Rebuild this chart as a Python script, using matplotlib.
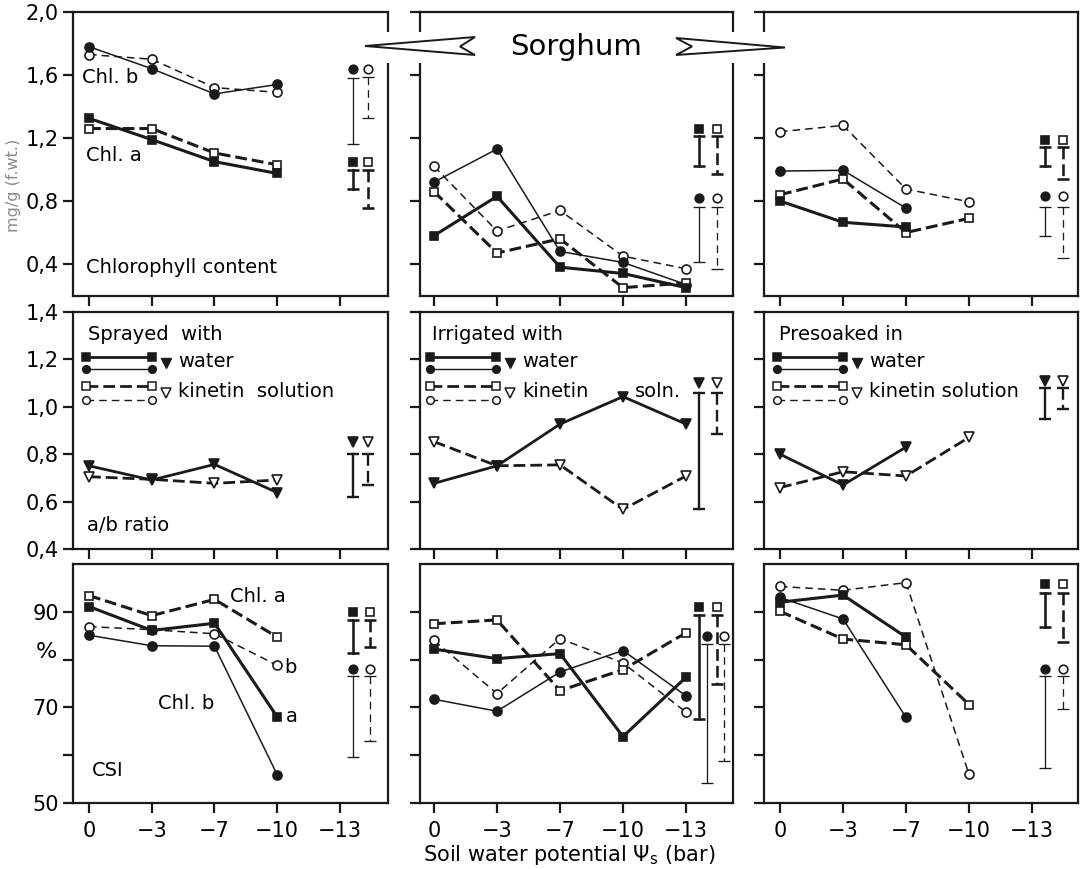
import matplotlib
matplotlib.use('Agg')
import matplotlib.pyplot as plt
from matplotlib.patches import Polygon, Rectangle

plt.rcParams['font.family'] = ['DejaVu Sans']
plt.rcParams['lines.scale_dashes'] = False

W, H = 1086, 869

x_pos = [0, 1, 2, 3, 4]
x_labels = ['0', '−3', '−7', '−10', '−13']

# chlorophyll content, mg/g f.wt.
spray_a_water = [1.325, 1.19, 1.05, 0.975]
spray_a_kin = [1.26, 1.26, 1.105, 1.03]
spray_b_water = [1.78, 1.64, 1.48, 1.54]
spray_b_kin = [1.73, 1.70, 1.52, 1.49]
irr_a_water = [0.58, 0.83, 0.38, 0.34, 0.25]
irr_a_kin = [0.86, 0.47, 0.56, 0.25, 0.28]
irr_b_water = [0.92, 1.13, 0.48, 0.41, 0.27]
irr_b_kin = [1.02, 0.61, 0.74, 0.45, 0.37]
soak_a_water = [0.80, 0.665, 0.635]
soak_a_kin = [0.84, 0.94, 0.60, 0.69]
soak_b_water = [0.99, 0.995, 0.755]
soak_b_kin = [1.24, 1.28, 0.876, 0.795]

# a/b ratio
spray_r_water = [0.751, 0.691, 0.757, 0.638]
spray_r_kin = [0.705, 0.694, 0.677, 0.691]
irr_r_water = [0.677, 0.751, 0.927, 1.043, 0.927]
irr_r_kin = [0.853, 0.751, 0.755, 0.567, 0.708]
soak_r_water = [0.80, 0.67, 0.83]
soak_r_kin = [0.659, 0.726, 0.708, 0.871]

# CSI, %
spray_csi_a_water = [91.1, 86.1, 87.6, 68.0]
spray_csi_a_kin = [93.4, 89.2, 92.6, 84.7]
spray_csi_b_water = [85.1, 82.9, 82.8, 55.9]
spray_csi_b_kin = [86.9, 86.25, 85.4, 78.8]
irr_csi_a_water = [82.2, 80.2, 81.25, 63.9, 76.3]
irr_csi_a_kin = [87.5, 88.3, 73.5, 77.9, 85.6]
irr_csi_b_water = [71.7, 69.2, 77.4, 81.9, 72.4]
irr_csi_b_kin = [84.0, 72.9, 84.4, 79.3, 69.0]
soak_csi_a_water = [92.0, 93.5, 84.7]
soak_csi_a_kin = [90.1, 84.3, 83.1, 70.6]
soak_csi_b_water = [93.0, 88.5, 67.9]
soak_csi_b_kin = [95.3, 94.5, 96.1, 56.0]

# LSD bars: (series, symbol level, bar top, bar bottom)
spray_chl_lsd = [('b_w', 1.64, 1.58, 1.16), ('b_k', 1.64, 1.59, 1.33),
                 ('a_w', 1.05, 1.00, 0.875), ('a_k', 1.05, 1.00, 0.755)]
irr_chl_lsd = [('a_w', 1.26, 1.21, 1.02), ('a_k', 1.26, 1.21, 0.97),
               ('b_w', 0.82, 0.76, 0.41), ('b_k', 0.82, 0.76, 0.37)]
soak_chl_lsd = [('a_w', 1.19, 1.14, 1.02), ('a_k', 1.19, 1.14, 0.94),
                ('b_w', 0.83, 0.76, 0.58), ('b_k', 0.83, 0.76, 0.44)]
spray_ratio_lsd = [('r_w', 0.85, 0.80, 0.62), ('r_k', 0.85, 0.80, 0.67)]
irr_ratio_lsd = [('r_w', 1.10, 1.06, 0.57), ('r_k', 1.10, 1.06, 0.885)]
soak_ratio_lsd = [('r_w', 1.11, 1.08, 0.95), ('r_k', 1.11, 1.08, 0.99)]
spray_csi_lsd = [('a_w', 89.9, 88.3, 81.4), ('a_k', 89.9, 88.3, 82.6),
                 ('b_w', 78.1, 76.5, 59.7), ('b_k', 78.1, 76.5, 63.0)]
irr_csi_lsd = [('a_w', 91.1, 89.4, 67.5), ('a_k', 91.1, 89.4, 74.8),
               ('b_w', 85.0, 83.3, 54.1), ('b_k', 85.0, 83.3, 58.7)]
soak_csi_lsd = [('a_w', 95.8, 93.9, 86.9), ('a_k', 95.8, 93.9, 83.7),
                ('b_w', 78.1, 76.5, 57.4), ('b_k', 78.1, 76.5, 69.6)]

INK = '#1a1a1a'
thick_dash = (0, (8.5, 3.6))
thin_dash = (0, (5.5, 3.6))
styles = {
    'a_w': dict(lw=2.2, ls='-', marker='s', ms=6, mfc=INK),
    'a_k': dict(lw=2.2, ls=thick_dash, marker='s', ms=6, mfc='white'),
    'b_w': dict(lw=1.1, ls='-', marker='o', ms=6.5, mfc=INK),
    'b_k': dict(lw=1.1, ls=thin_dash, marker='o', ms=6.5, mfc='white'),
    'r_w': dict(lw=2.0, ls='-', marker='v', ms=7.5, mfc=INK),
    'r_k': dict(lw=2.0, ls=thick_dash, marker='v', ms=7.5, mfc='white'),
}

cols_px = [(73, 388), (420, 733), (764, 1078)]
rows_px = [(12, 296), (312, 549), (564, 803)]
xlims = [(-0.255, 4.765), (-0.222, 4.746), (-0.254, 4.730)]
# x of the LSD bars per row and column: (solid, dashed, extra shift for circles)
lsd_x = [[(4.2, 4.45, 0.0), (4.21, 4.49, 0.0), (4.21, 4.49, 0.0)],
         [(4.2, 4.45, 0.0), (4.21, 4.49, 0.0), (4.21, 4.49, 0.0)],
         [(4.2, 4.48, 0.0), (4.21, 4.49, 0.12), (4.21, 4.49, 0.0)]]

fig = plt.figure(figsize=(W / 100, H / 100), dpi=100)


def make_ax(r, c):
    x0, x1 = cols_px[c]
    y0, y1 = rows_px[r]
    ax = fig.add_axes([x0 / W, 1 - y1 / H, (x1 - x0) / W, (y1 - y0) / H])
    for s in ax.spines.values():
        s.set_linewidth(1.6)
        s.set_color(INK)
    ax.tick_params(direction='out', length=7, width=1.6, labelsize=15,
                   color=INK, pad=3)
    ax.set_xlim(*xlims[c])
    ax.set_xticks(x_pos)
    if r == 2:
        ax.set_xticklabels(x_labels)
        ax.tick_params(axis='x', pad=6)
    else:
        ax.set_xticklabels([])
    return ax


def draw(ax, vals, key):
    st = styles[key]
    ax.plot(x_pos[:len(vals)], vals, color=INK, mec=INK, mew=1.2,
            zorder=3, **st)


def draw_lsd(ax, bars, xs):
    xw, xk, shift = xs
    for key, sym, top, bot in bars:
        st = styles[key]
        x = xw if key.endswith('w') else xk
        if key.startswith('b'):
            x += shift
        ax.plot([x], [sym], ls='none', marker=st['marker'],
                ms=st['ms'] * 0.95, mfc=st['mfc'], mec=INK, mew=1.2)
        ax.plot([x, x], [top, bot], color=INK, lw=st['lw'] * 0.85,
                ls=st['ls'])
        ax.plot([x, x], [top, bot], ls='none', marker='_', ms=8,
                mew=st['lw'] * 0.85, color=INK)


chl_sets = [
    (spray_a_water, spray_a_kin, spray_b_water, spray_b_kin, spray_chl_lsd),
    (irr_a_water, irr_a_kin, irr_b_water, irr_b_kin, irr_chl_lsd),
    (soak_a_water, soak_a_kin, soak_b_water, soak_b_kin, soak_chl_lsd),
]
ratio_sets = [
    (spray_r_water, spray_r_kin, spray_ratio_lsd),
    (irr_r_water, irr_r_kin, irr_ratio_lsd),
    (soak_r_water, soak_r_kin, soak_ratio_lsd),
]
csi_sets = [
    (spray_csi_a_water, spray_csi_a_kin, spray_csi_b_water, spray_csi_b_kin, spray_csi_lsd),
    (irr_csi_a_water, irr_csi_a_kin, irr_csi_b_water, irr_csi_b_kin, irr_csi_lsd),
    (soak_csi_a_water, soak_csi_a_kin, soak_csi_b_water, soak_csi_b_kin, soak_csi_lsd),
]
headers = ['Sprayed  with', 'Irrigated with', 'Presoaked in']
kin_text = ['kinetin  solution', 'kinetin', 'kinetin solution']

axes = [[None] * 3 for _ in range(3)]
for c in range(3):
    # chlorophyll content
    ax = make_ax(0, c)
    aw, ak, bw, bk, lsd = chl_sets[c]
    for vals, key in [(bk, 'b_k'), (bw, 'b_w'), (ak, 'a_k'), (aw, 'a_w')]:
        draw(ax, vals, key)
    draw_lsd(ax, lsd, lsd_x[0][c])
    ax.set_ylim(0.197, 2.0)
    ax.set_yticks([0.4, 0.8, 1.2, 1.6, 2.0])
    ax.set_yticklabels(['0,4', '0,8', '1,2', '1,6', '2,0'] if c == 0 else [])
    axes[0][c] = ax

    # a/b ratio
    ax = make_ax(1, c)
    rw, rk, lsd = ratio_sets[c]
    draw(ax, rk, 'r_k')
    draw(ax, rw, 'r_w')
    draw_lsd(ax, lsd, lsd_x[1][c])
    ax.set_ylim(0.4, 1.4)
    ax.set_yticks([0.4, 0.6, 0.8, 1.0, 1.2, 1.4])
    ax.set_yticklabels(['0,4', '0,6', '0,8', '1,0', '1,2', '1,4'] if c == 0 else [])
    # legend block
    x0, x1 = cols_px[c]
    wpx = x1 - x0
    lx0 = 13 / wpx if c != 1 else 10 / wpx
    lx1 = lx0 + 66 / wpx
    ax.text(lx0 + 2 / wpx, 0.905, headers[c], transform=ax.transAxes,
            fontsize=14, va='center', ha='left')
    for yy, key in [(0.810, 'a_w'), (0.759, 'b_w'), (0.688, 'a_k'), (0.629, 'b_k')]:
        st = dict(styles[key])
        st['ms'] = st['ms'] * 0.85
        st['lw'] = st['lw'] * 0.9
        ax.plot([lx0, lx1], [yy, yy], transform=ax.transAxes, color=INK,
                mec=INK, mew=1.1, clip_on=False, **st)
    mx = lx1 + 14 / wpx
    ax.plot([mx], [0.785], transform=ax.transAxes, marker='v', ms=6.5,
            color=INK, ls='none')
    ax.plot([mx], [0.660], transform=ax.transAxes, marker='v', ms=6.5,
            mfc='white', mec=INK, mew=1.1, ls='none')
    ax.text(mx + 12 / wpx, 0.790, 'water', transform=ax.transAxes,
            fontsize=14, va='center', ha='left')
    ax.text(mx + 12 / wpx, 0.665, kin_text[c], transform=ax.transAxes,
            fontsize=14, va='center', ha='left')
    axes[1][c] = ax

    # CSI
    ax = make_ax(2, c)
    aw, ak, bw, bk, lsd = csi_sets[c]
    for vals, key in [(bk, 'b_k'), (bw, 'b_w'), (ak, 'a_k'), (aw, 'a_w')]:
        draw(ax, vals, key)
    draw_lsd(ax, lsd, lsd_x[2][c])
    ax.set_ylim(50, 100)
    ax.set_yticks([50, 60, 70, 80, 90])
    ax.set_yticklabels(['50', '', '70', '', '90'] if c == 0 else [])
    axes[2][c] = ax

# panel annotations
a = axes[0][0]
a.text(0.029, 0.771, 'Chl. b', transform=a.transAxes, fontsize=14, va='center')
a.text(0.041, 0.496, 'Chl. a', transform=a.transAxes, fontsize=14, va='center')
a.text(0.041, 0.102, 'Chlorophyll content', transform=a.transAxes, fontsize=14, va='center')
a = axes[1][0]
a.text(0.044, 0.101, 'a/b ratio', transform=a.transAxes, fontsize=14, va='center')
a = axes[1][1]
a.text(0.687, 0.665, 'soln.', transform=a.transAxes, fontsize=14, va='center')
a = axes[2][0]
a.text(0.498, 0.862, 'Chl. a', transform=a.transAxes, fontsize=14, va='center')
a.text(0.672, 0.569, 'b', transform=a.transAxes, fontsize=14, va='center')
a.text(0.270, 0.418, 'Chl. b', transform=a.transAxes, fontsize=14, va='center')
a.text(0.676, 0.360, 'a', transform=a.transAxes, fontsize=14, va='center')
a.text(0.060, 0.138, 'CSI', transform=a.transAxes, fontsize=14, va='center')
a.text(-0.083, 81.6, '%', transform=a.get_yaxis_transform(), fontsize=16,
       va='center', ha='center')

# overlay in pixel coordinates for the title arrows and axis labels
ov = fig.add_axes([0, 0, 1, 1])
ov.set_xlim(0, W)
ov.set_ylim(H, 0)
ov.axis('off')
ov.set_zorder(10)
for sx in [388, 420, 733, 764]:
    ov.add_patch(Rectangle((sx - 5, 32), 10, 31, facecolor='white',
                           edgecolor='none'))
ov.add_patch(Polygon([(365, 46), (475, 37), (460, 46.5), (475, 55)],
                     closed=True, facecolor='white', edgecolor=INK, lw=1.4))
ov.add_patch(Polygon([(676, 38), (785, 47.5), (676, 55), (692, 46.5)],
                     closed=True, facecolor='white', edgecolor=INK, lw=1.4))
ov.text(576, 47, 'Sorghum', fontsize=21, ha='center', va='center')
ov.text(14, 185, 'mg/g (f.wt.)', fontsize=11.5, rotation=90, color='#8a8a8a',
        ha='center', va='center')
ov.text(569, 855, r'Soil water potential $\Psi_\mathrm{s}$ (bar)', fontsize=15,
        ha='center', va='center')

fig.savefig('out.png', dpi=100, facecolor='white')
